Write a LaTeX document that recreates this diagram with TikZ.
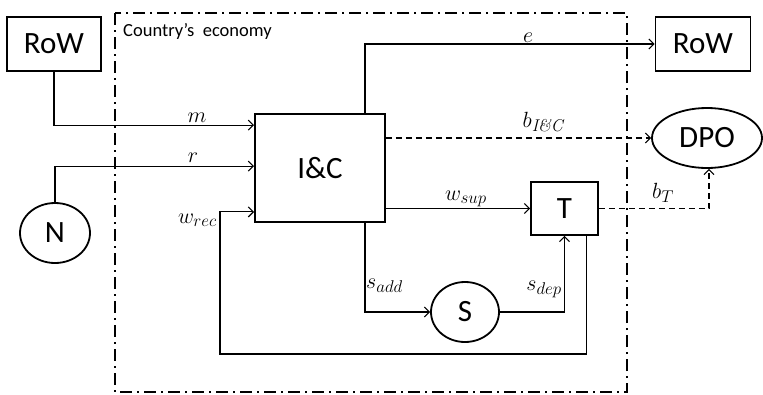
\RequirePackage{fix-cm}
\documentclass[tikz,border=0pt]{standalone}
\usepackage{fontspec}
\setmainfont{Carlito}
\newfontfamily\lmr{Latin Modern Roman}
\DeclareMathSizes{22}{22}{17}{13}
\usetikzlibrary{arrows.meta,shapes.geometric}
\begin{document}
\begin{tikzpicture}[x=1pt,y=-1pt,
  box/.style={draw,line width=1.8pt,inner sep=0pt,font=\fontsize{31}{31}\selectfont},
  oval/.style={ellipse,draw,line width=1.8pt,inner sep=0pt,font=\fontsize{31}{31}\selectfont},
  flow/.style={line width=1.1pt,-{Straight Barb[length=5pt,width=10pt]}},
  dflow/.style={flow,dash pattern=on 6pt off 4pt},
  lab/.style={font=\fontsize{22}{22}\selectfont,inner sep=0pt,anchor=base},
  frame/.style={line width=1.5pt,dash pattern=on 12pt off 5pt on 2pt off 5pt}]
\useasboundingbox (0,0) rectangle (763,394);
\draw[frame] (115,13) rectangle (627,392);
\node[font=\fontsize{18.5}{18.5}\selectfont,anchor=base west,inner sep=0pt] (ce) at (123,36) {Country’s\ \ economy};
\node[box,minimum width=94pt,minimum height=54pt] (RoWL) at (54,44) {RoW};
\node[box,minimum width=95pt,minimum height=54pt] (RoWR) at (703,44) {RoW};
\node[box,minimum width=130pt,minimum height=108pt] (IC) at (320,168) {I\&C};
\node[box,minimum width=67pt,minimum height=53pt] (T) at (564.5,208.5) {T};
\node[oval,minimum width=110pt,minimum height=60pt] (DPO) at (707,138) {DPO};
\node[oval,minimum width=70pt,minimum height=60pt] (N) at (55,233) {N};
\node[oval,minimum width=68pt,minimum height=60pt] (S) at (465,312) {S};
\coordinate (wl) at (220,354);
\draw[flow] (RoWL.south) |- ([yshift=-12pt]IC.north west);
\draw[flow] (N.north) |- ([yshift=-53pt]IC.north west);
\draw[flow] ([xshift=45pt]IC.north) |- (RoWR.west);
\draw[dflow] (IC.east |- DPO.west) -- (DPO.west);
\draw[flow] (IC.east |- T.west) -- (T.west);
\draw[dflow] (T.east) -| ([xshift=2pt]DPO.south);
\draw[flow] ([xshift=45pt]IC.south) |- (S.west);
\draw[flow] (S.east) -| (T.south);
\draw[flow] ([xshift=22pt]T.south) |- (wl) |- ([yshift=11pt]IC.south west);
\node[lab] (lm) at (197,122) {$m$};
\node[lab] (lr) at (193,162) {$r$};
\node[lab] (le) at (528,42) {$e$};
\node[lab] (lb) at (543,127) {$b_{\hbox{\fontsize{17}{17}\selectfont\lmr\itshape I\&C}}$};
\node[lab] (lws) at (466,200) {$w_{sup}$};
\node[lab] (lbt) at (663,198) {$b_T$};
\node[lab,anchor=base east] (lwr) at (217,223) {$w_{rec}$};
\node[lab,anchor=base west] (lsa) at (366,288) {$s_{add}$};
\node[lab,anchor=base east] (lsd) at (562,290) {$s_{dep}$};
\end{tikzpicture}
\end{document}
